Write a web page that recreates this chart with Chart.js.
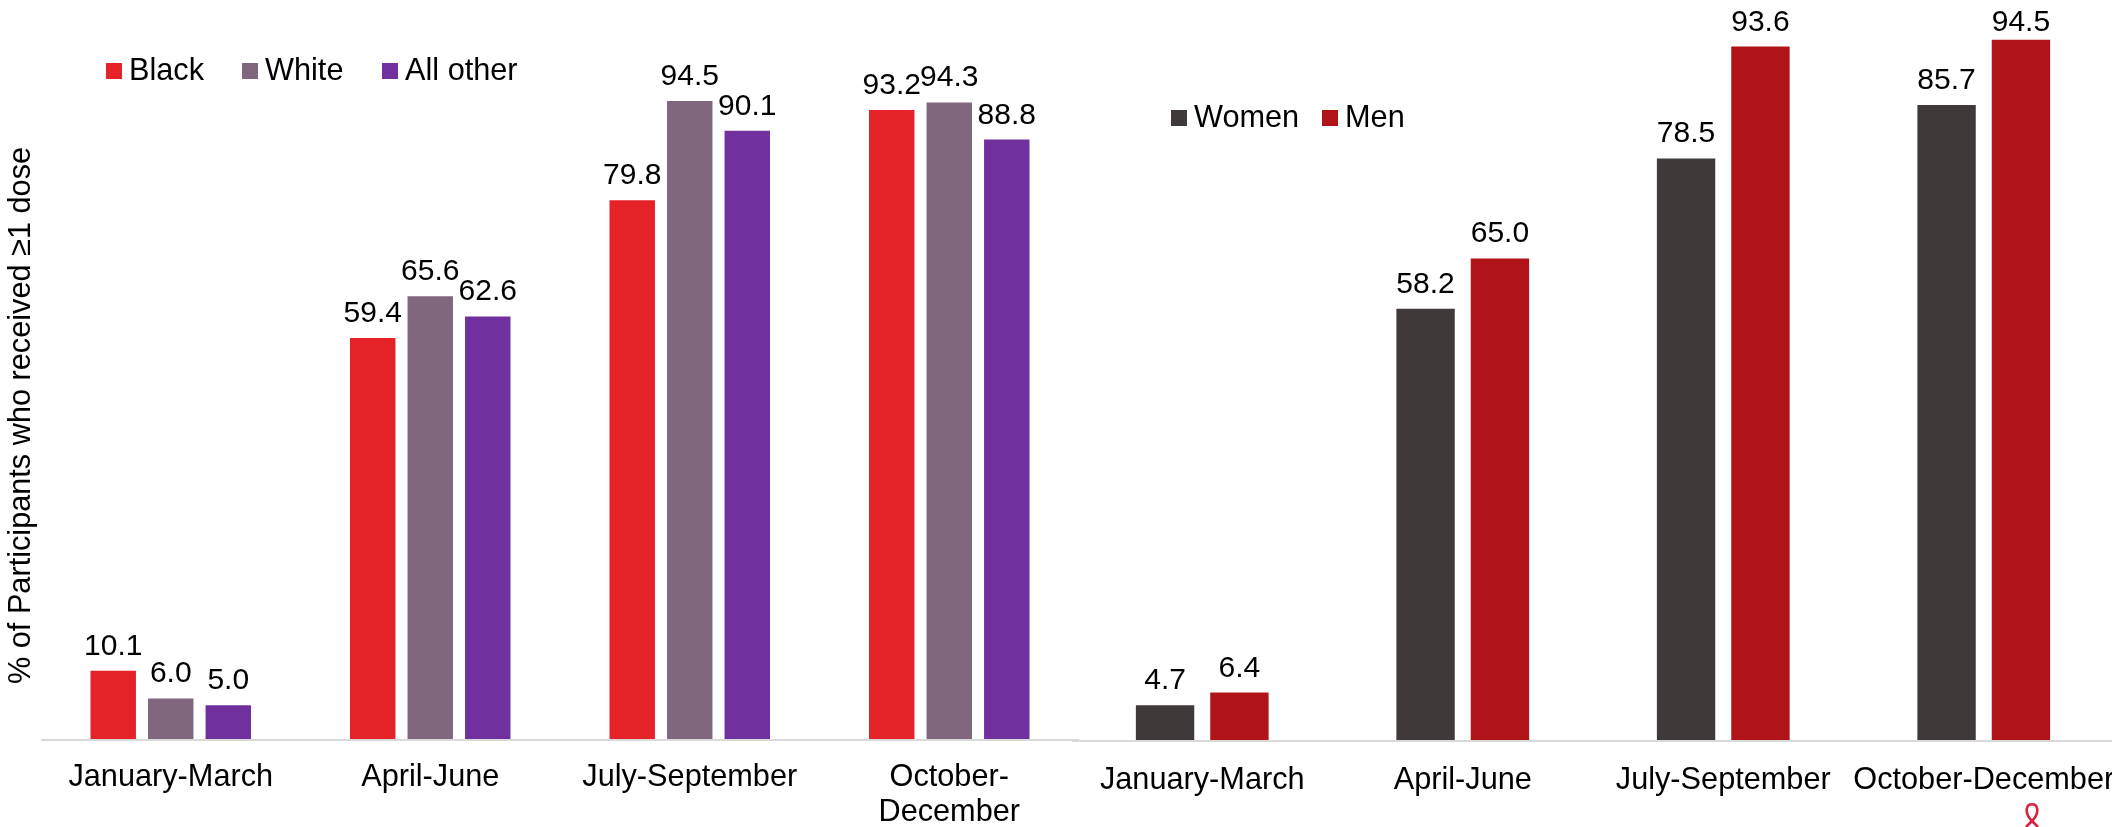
<!DOCTYPE html>
<html>
<head>
<meta charset="utf-8">
<title>Participants who received at least 1 dose</title>
<script src="https://cdn.jsdelivr.net/npm/chart.js@4"></script>
<style>
  html, body { margin: 0; padding: 0; background: #fff; overflow: hidden; }
  body { position: relative; width: 2112px; height: 827px; }
  canvas { position: absolute; top: 0; }
  #raceChart { left: 0; }
  #sexChart { left: 1060px; }
  #ribbon { position: absolute; left: 2022px; top: 802px; }
</style>
</head>
<body>
<canvas id="raceChart" width="1090" height="827"></canvas>
<canvas id="sexChart" width="1100" height="827"></canvas>
<svg id="ribbon" width="20" height="25" viewBox="0 0 20 25">
  <path d="M10 19 C5 14 4 10 5 6 C6 1 14 1 15 6 C16 10 15 14 10 19 C8 21 6 23 4 25 M10 19 C12 21 14 23 16 25" fill="none" stroke="#d9213f" stroke-width="2.6"/>
</svg>
<script>
const raceCategories = ['January-March', 'April-June', 'July-September', ['October-', 'December']];
const black = [10.1, 59.4, 79.8, 93.2];
const white = [6.0, 65.6, 94.5, 94.3];
const allOther = [5.0, 62.6, 90.1, 88.8];

const sexCategories = ['January-March', 'April-June', 'July-September', 'October-December'];
const women = [4.7, 58.2, 78.5, 85.7];
const men = [6.4, 65.0, 93.6, 94.5];

const yTitle = '% of Participants who received \u22651 dose';
const fontFamily = '"Liberation Sans", Arial, sans-serif';

// value labels, legend and the grey base line, all drawn on the canvas
const barText = {
  id: 'barText',
  beforeDatasetsDraw(chart) {
    const area = chart.chartArea;
    chart.ctx.fillStyle = '#d9d9d9';
    chart.ctx.fillRect(area.left, area.bottom, area.right - area.left, 2);
  },
  afterDatasetsDraw(chart, args, opts) {
    const ctx = chart.ctx;
    ctx.save();
    ctx.font = '30px ' + fontFamily;
    ctx.fillStyle = '#000';
    ctx.textAlign = 'center';
    ctx.textBaseline = 'alphabetic';
    chart.data.datasets.forEach((ds, i) => {
      chart.getDatasetMeta(i).data.forEach((bar, j) => {
        ctx.fillText(ds.data[j].toFixed(1), bar.x, Math.max(bar.y - 16, opts.minY));
      });
    });
    ctx.font = '30.7px ' + fontFamily;
    ctx.textAlign = 'left';
    chart.data.datasets.forEach((ds, i) => {
      const x = opts.legendX[i];
      ctx.fillStyle = ds.backgroundColor;
      ctx.fillRect(x, opts.legendY - 17, 16, 16);
      ctx.fillStyle = '#000';
      ctx.fillText(ds.label, x + 23, opts.legendY);
    });
    ctx.restore();
  }
};

function makeChart(id, labels, datasets, cfg) {
  return new Chart(document.getElementById(id), {
    type: 'bar',
    data: { labels: labels, datasets: datasets },
    plugins: [barText],
    options: {
      responsive: false,
      animation: false,
      categoryPercentage: cfg.categoryPercentage,
      barPercentage: cfg.barPercentage,
      layout: { padding: cfg.padding },
      plugins: {
        legend: { display: false },
        tooltip: { enabled: false },
        barText: { minY: cfg.minY, legendX: cfg.legendX, legendY: cfg.legendY }
      },
      scales: {
        x: {
          grid: { display: false, drawTicks: false },
          border: { display: false },
          afterFit: (scale) => { scale.height = 827 - cfg.baseline; },
          ticks: {
            color: '#000',
            padding: cfg.tickPadding,
            autoSkip: false,
            maxRotation: 0,
            font: { family: fontFamily, size: 30.7, lineHeight: 1.15 }
          }
        },
        y: {
          display: cfg.yWidth > 0,
          min: 0,
          max: cfg.yMax,
          grid: { display: false, drawTicks: false },
          border: { display: false },
          ticks: { display: false },
          afterFit: (scale) => { scale.width = cfg.yWidth; },
          title: {
            display: cfg.yWidth > 0,
            text: yTitle,
            color: '#000',
            padding: { top: 3, bottom: 0 },
            font: { family: fontFamily, size: 30.7 }
          }
        }
      }
    }
  });
}

makeChart('raceChart', raceCategories, [
  { label: 'Black', data: black, backgroundColor: '#e52227' },
  { label: 'White', data: white, backgroundColor: '#80677e' },
  { label: 'All other', data: allOther, backgroundColor: '#70309e' }
], {
  categoryPercentage: 0.665, barPercentage: 0.79,
  padding: { top: 92, right: 11 },
  baseline: 739, yMax: 95.85, yWidth: 41, tickPadding: 21,
  minY: 0, legendX: [106, 242, 382], legendY: 80
});

makeChart('sexChart', sexCategories, [
  { label: 'Women', data: women, backgroundColor: '#3f3a39' },
  { label: 'Men', data: men, backgroundColor: '#b01419' }
], {
  categoryPercentage: 0.571, barPercentage: 0.785,
  padding: { top: 28, left: 12, right: 46 },
  baseline: 740, yMax: 96.1, yWidth: 0, tickPadding: 23,
  minY: 31, legendX: [111, 262], legendY: 127
});
</script>
</body>
</html>
